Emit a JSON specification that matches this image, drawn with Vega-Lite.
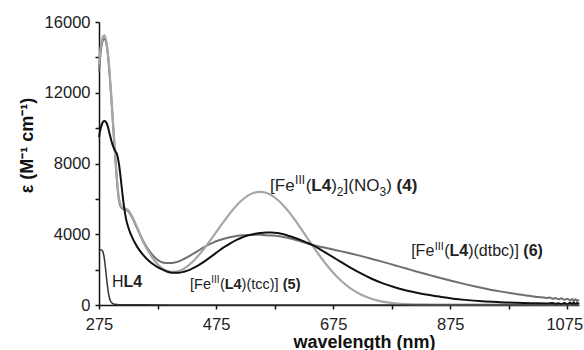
{
  "$schema": "https://vega.github.io/schema/vega-lite/v6.json",
  "width": 480,
  "height": 283,
  "autosize": {"type": "none"},
  "padding": {"left": 99, "top": 22, "right": 5, "bottom": 45},
  "background": "white",
  "config": {
    "view": {"stroke": null},
    "font": "Liberation Sans",
    "axis": {"grid": false, "domainColor": "#111", "domainWidth": 1.5, "tickColor": "#111", "tickWidth": 1.5, "tickSize": 4, "labelFont": "Liberation Sans", "labelFontSize": 16.5, "labelColor": "#222", "titleFont": "Liberation Sans", "titleColor": "#111"}
  },
  "datasets": {
    "s6": [
      {"nm": 275, "eps": 13200}, {"nm": 278, "eps": 14300}, {"nm": 281, "eps": 14900}, {"nm": 284, "eps": 15050}, {"nm": 287, "eps": 14850},
      {"nm": 290, "eps": 14200}, {"nm": 293, "eps": 13100}, {"nm": 296, "eps": 11700}, {"nm": 299, "eps": 10200}, {"nm": 302, "eps": 8700},
      {"nm": 305, "eps": 7300}, {"nm": 308, "eps": 6200}, {"nm": 311, "eps": 5650}, {"nm": 315, "eps": 5450}, {"nm": 320, "eps": 5400},
      {"nm": 325, "eps": 5300}, {"nm": 330, "eps": 5050}, {"nm": 340, "eps": 4350}, {"nm": 350, "eps": 3650}, {"nm": 360, "eps": 3100},
      {"nm": 370, "eps": 2700}, {"nm": 380, "eps": 2450}, {"nm": 390, "eps": 2370}, {"nm": 400, "eps": 2380}, {"nm": 410, "eps": 2450},
      {"nm": 420, "eps": 2600}, {"nm": 430, "eps": 2780}, {"nm": 440, "eps": 2980}, {"nm": 450, "eps": 3180}, {"nm": 460, "eps": 3370},
      {"nm": 470, "eps": 3530}, {"nm": 480, "eps": 3660}, {"nm": 490, "eps": 3760}, {"nm": 500, "eps": 3840}, {"nm": 510, "eps": 3900},
      {"nm": 520, "eps": 3940}, {"nm": 530, "eps": 3960}, {"nm": 540, "eps": 3970}, {"nm": 550, "eps": 3965}, {"nm": 560, "eps": 3950},
      {"nm": 570, "eps": 3930}, {"nm": 580, "eps": 3900}, {"nm": 590, "eps": 3840}, {"nm": 600, "eps": 3770}, {"nm": 610, "eps": 3690},
      {"nm": 620, "eps": 3590}, {"nm": 630, "eps": 3490}, {"nm": 640, "eps": 3390}, {"nm": 660, "eps": 3250}, {"nm": 680, "eps": 3100},
      {"nm": 700, "eps": 2950}, {"nm": 720, "eps": 2790}, {"nm": 740, "eps": 2620}, {"nm": 760, "eps": 2440}, {"nm": 780, "eps": 2250},
      {"nm": 800, "eps": 2060}, {"nm": 820, "eps": 1870}, {"nm": 840, "eps": 1690}, {"nm": 860, "eps": 1510}, {"nm": 880, "eps": 1340},
      {"nm": 900, "eps": 1180}, {"nm": 920, "eps": 1030}, {"nm": 940, "eps": 890}, {"nm": 960, "eps": 770}, {"nm": 980, "eps": 660},
      {"nm": 1000, "eps": 560}, {"nm": 1010, "eps": 520}, {"nm": 1020, "eps": 470}, {"nm": 1030, "eps": 440}, {"nm": 1040, "eps": 400},
      {"nm": 1045, "eps": 420}, {"nm": 1050, "eps": 350}, {"nm": 1055, "eps": 390}, {"nm": 1060, "eps": 320}, {"nm": 1065, "eps": 380},
      {"nm": 1070, "eps": 290}, {"nm": 1075, "eps": 360}, {"nm": 1080, "eps": 250}, {"nm": 1083, "eps": 340}, {"nm": 1086, "eps": 230},
      {"nm": 1089, "eps": 330}, {"nm": 1092, "eps": 220}, {"nm": 1095, "eps": 300}
    ],
    "s4": [
      {"nm": 275, "eps": 13600}, {"nm": 278, "eps": 14600}, {"nm": 281, "eps": 15100}, {"nm": 284, "eps": 15250}, {"nm": 287, "eps": 15000},
      {"nm": 290, "eps": 14300}, {"nm": 293, "eps": 13200}, {"nm": 296, "eps": 11800}, {"nm": 299, "eps": 10300}, {"nm": 302, "eps": 8800},
      {"nm": 305, "eps": 7400}, {"nm": 308, "eps": 6300}, {"nm": 311, "eps": 5750}, {"nm": 315, "eps": 5500}, {"nm": 320, "eps": 5450},
      {"nm": 325, "eps": 5350}, {"nm": 330, "eps": 5100}, {"nm": 340, "eps": 4400}, {"nm": 350, "eps": 3600}, {"nm": 360, "eps": 3000},
      {"nm": 370, "eps": 2500}, {"nm": 380, "eps": 2150}, {"nm": 390, "eps": 1950}, {"nm": 400, "eps": 1870}, {"nm": 410, "eps": 1900},
      {"nm": 420, "eps": 2050}, {"nm": 430, "eps": 2300}, {"nm": 440, "eps": 2620}, {"nm": 450, "eps": 3000}, {"nm": 460, "eps": 3420},
      {"nm": 470, "eps": 3880}, {"nm": 480, "eps": 4350}, {"nm": 490, "eps": 4800}, {"nm": 500, "eps": 5240}, {"nm": 510, "eps": 5630},
      {"nm": 520, "eps": 5950}, {"nm": 530, "eps": 6200}, {"nm": 540, "eps": 6350}, {"nm": 550, "eps": 6400}, {"nm": 560, "eps": 6350},
      {"nm": 570, "eps": 6200}, {"nm": 580, "eps": 5950}, {"nm": 590, "eps": 5630}, {"nm": 600, "eps": 5240}, {"nm": 610, "eps": 4800},
      {"nm": 620, "eps": 4320}, {"nm": 630, "eps": 3830}, {"nm": 640, "eps": 3340}, {"nm": 650, "eps": 2870}, {"nm": 660, "eps": 2430},
      {"nm": 670, "eps": 2020}, {"nm": 680, "eps": 1650}, {"nm": 690, "eps": 1330}, {"nm": 700, "eps": 1055}, {"nm": 710, "eps": 823},
      {"nm": 720, "eps": 632}, {"nm": 730, "eps": 477}, {"nm": 750, "eps": 260}, {"nm": 770, "eps": 132}, {"nm": 800, "eps": 50},
      {"nm": 850, "eps": 25}, {"nm": 900, "eps": 20}, {"nm": 1000, "eps": 15}, {"nm": 1095, "eps": 10}
    ],
    "s5": [
      {"nm": 275, "eps": 9500}, {"nm": 278, "eps": 10000}, {"nm": 281, "eps": 10300}, {"nm": 284, "eps": 10400}, {"nm": 287, "eps": 10350},
      {"nm": 290, "eps": 10100}, {"nm": 293, "eps": 9700}, {"nm": 296, "eps": 9300}, {"nm": 300, "eps": 8900}, {"nm": 303, "eps": 8700},
      {"nm": 306, "eps": 8500}, {"nm": 309, "eps": 8000}, {"nm": 312, "eps": 7200}, {"nm": 315, "eps": 6300}, {"nm": 318, "eps": 5500},
      {"nm": 321, "eps": 4900}, {"nm": 325, "eps": 4400}, {"nm": 330, "eps": 3950}, {"nm": 340, "eps": 3300}, {"nm": 350, "eps": 2850},
      {"nm": 360, "eps": 2500}, {"nm": 370, "eps": 2250}, {"nm": 380, "eps": 2050}, {"nm": 390, "eps": 1900}, {"nm": 400, "eps": 1820},
      {"nm": 410, "eps": 1820}, {"nm": 420, "eps": 1880}, {"nm": 430, "eps": 1990}, {"nm": 440, "eps": 2150}, {"nm": 450, "eps": 2350},
      {"nm": 460, "eps": 2580}, {"nm": 470, "eps": 2820}, {"nm": 480, "eps": 3070}, {"nm": 490, "eps": 3300}, {"nm": 500, "eps": 3500},
      {"nm": 510, "eps": 3680}, {"nm": 520, "eps": 3830}, {"nm": 530, "eps": 3940}, {"nm": 540, "eps": 4020}, {"nm": 550, "eps": 4070},
      {"nm": 560, "eps": 4100}, {"nm": 570, "eps": 4100}, {"nm": 580, "eps": 4070}, {"nm": 590, "eps": 4000}, {"nm": 600, "eps": 3900},
      {"nm": 610, "eps": 3790}, {"nm": 620, "eps": 3670}, {"nm": 630, "eps": 3530}, {"nm": 640, "eps": 3380}, {"nm": 650, "eps": 3200},
      {"nm": 660, "eps": 3000}, {"nm": 680, "eps": 2600}, {"nm": 700, "eps": 2200}, {"nm": 720, "eps": 1830}, {"nm": 740, "eps": 1500},
      {"nm": 760, "eps": 1220}, {"nm": 780, "eps": 1000}, {"nm": 800, "eps": 820}, {"nm": 820, "eps": 680}, {"nm": 840, "eps": 560},
      {"nm": 860, "eps": 450}, {"nm": 880, "eps": 360}, {"nm": 900, "eps": 290}, {"nm": 930, "eps": 210}, {"nm": 960, "eps": 160},
      {"nm": 1000, "eps": 110}, {"nm": 1020, "eps": 95}, {"nm": 1040, "eps": 85}, {"nm": 1050, "eps": 110}, {"nm": 1055, "eps": 60},
      {"nm": 1060, "eps": 105}, {"nm": 1065, "eps": 50}, {"nm": 1070, "eps": 120}, {"nm": 1075, "eps": 40}, {"nm": 1080, "eps": 130},
      {"nm": 1083, "eps": 50}, {"nm": 1086, "eps": 140}, {"nm": 1089, "eps": 40}, {"nm": 1092, "eps": 120}, {"nm": 1095, "eps": 60}
    ],
    "hl4": [
      {"nm": 275, "eps": 3100}, {"nm": 278, "eps": 3120}, {"nm": 281, "eps": 3050}, {"nm": 283, "eps": 2850}, {"nm": 285, "eps": 2400},
      {"nm": 287, "eps": 1800}, {"nm": 289, "eps": 1200}, {"nm": 291, "eps": 700}, {"nm": 293, "eps": 380}, {"nm": 295, "eps": 200},
      {"nm": 298, "eps": 90}, {"nm": 302, "eps": 40}, {"nm": 310, "eps": 20}, {"nm": 350, "eps": 10}, {"nm": 400, "eps": 5},
      {"nm": 500, "eps": 0}, {"nm": 1095, "eps": 0}
    ],
    "lab4Reg": [
      {"nm": 567.3, "eps": 6446, "t": "[Fe"}, {"nm": 628.0, "eps": 6446, "t": "("}, {"nm": 671.6, "eps": 6446, "t": ")"},
      {"nm": 692.8, "eps": 6446, "t": "](NO"}, {"nm": 765.6, "eps": 6446, "t": ")"}
    ],
    "lab4Bold": [
      {"nm": 637.7, "eps": 6446, "t": "L4"}, {"nm": 783.4, "eps": 6446, "t": "(4)"}
    ],
    "lab4Sup": [{"nm": 610.0, "eps": 6446, "t": "III"}],
    "lab4Sub": [{"nm": 681.3, "eps": 6446, "t": "2"}, {"nm": 754.1, "eps": 6446, "t": "3"}],
    "lab5Reg": [
      {"nm": 430.6, "eps": 905, "t": "[Fe"}, {"nm": 481.5, "eps": 905, "t": "("}, {"nm": 518.6, "eps": 905, "t": ")(tcc)]"}
    ],
    "lab5Bold": [
      {"nm": 489.7, "eps": 905, "t": "L4"}, {"nm": 588.9, "eps": 905, "t": "(5)"}
    ],
    "lab5Sup": [{"nm": 466.8, "eps": 905, "t": "III"}],
    "lab6Reg": [
      {"nm": 808.3, "eps": 2770, "t": "[Fe"}, {"nm": 864.7, "eps": 2770, "t": "("}, {"nm": 905.7, "eps": 2770, "t": ")(dtbc)]"},
      {"nm": 297.2, "eps": 1018, "t": "H"}
    ],
    "lab6Bold": [
      {"nm": 873.8, "eps": 2770, "t": "L4"}, {"nm": 999.9, "eps": 2770, "t": "(6)"},
      {"nm": 317.0, "eps": 1018, "t": "L4"}
    ],
    "lab6Sup": [{"nm": 848.5, "eps": 2770, "t": "III"}]
  },
  "encoding": {
    "x": {"field": "nm", "type": "quantitative", "scale": {"domain": [275, 1095], "nice": false, "zero": false},
      "axis": {"values": [275, 375, 475, 575, 675, 775, 875, 975, 1075], "labelExpr": "(datum.value - 275) % 200 == 0 ? datum.label : ''", "format": "d", "labelPadding": 7, "labelFlush": false, "labelOverlap": false,
        "labelOffset": {"condition": {"test": "datum.value == 1075", "value": -3}, "value": 0},
        "title": "wavelength (nm)", "titleFontSize": 18, "titleFontWeight": "bold", "titleX": 265, "titleY": 42, "titleBaseline": "alphabetic"}},
    "y": {"field": "eps", "type": "quantitative", "scale": {"domain": [0, 16000], "nice": false},
      "axis": {"values": [0, 2000, 4000, 6000, 8000, 10000, 12000, 14000, 16000], "labelExpr": "datum.value % 4000 == 0 ? datum.label : ''", "format": "d", "labelPadding": 5, "labelFlush": false, "labelOverlap": false,
        "title": "ε (M⁻¹ cm⁻¹)", "titleFontSize": 18, "titleFontWeight": "bold", "titleX": -67, "titleY": 123, "titleBaseline": "alphabetic", "titleAlign": "center"}}
  },
  "layer": [
    {"data": {"name": "s6"}, "mark": {"type": "line", "color": "#6f6f6f", "strokeWidth": 2, "interpolate": "monotone"}},
    {"data": {"name": "s4"}, "mark": {"type": "line", "color": "#a6a6a6", "strokeWidth": 2.2, "interpolate": "monotone"}},
    {"data": {"name": "s5"}, "mark": {"type": "line", "color": "#111111", "strokeWidth": 2, "interpolate": "monotone"}},
    {"data": {"name": "hl4"}, "mark": {"type": "line", "color": "#333333", "strokeWidth": 1.5, "interpolate": "monotone"}},
    {"data": {"name": "lab4Reg"}, "mark": {"type": "text", "align": "left", "baseline": "alphabetic", "fontSize": 17, "color": "#222"}, "encoding": {"text": {"field": "t"}}},
    {"data": {"name": "lab4Bold"}, "mark": {"type": "text", "align": "left", "baseline": "alphabetic", "fontSize": 17, "fontWeight": "bold", "color": "#222"}, "encoding": {"text": {"field": "t"}}},
    {"data": {"name": "lab4Sup"}, "mark": {"type": "text", "align": "left", "baseline": "alphabetic", "fontSize": 12, "dy": -7, "color": "#222"}, "encoding": {"text": {"field": "t"}}},
    {"data": {"name": "lab4Sub"}, "mark": {"type": "text", "align": "left", "baseline": "alphabetic", "fontSize": 12, "dy": 5, "color": "#222"}, "encoding": {"text": {"field": "t"}}},
    {"data": {"name": "lab5Reg"}, "mark": {"type": "text", "align": "left", "baseline": "alphabetic", "fontSize": 14.5, "color": "#222"}, "encoding": {"text": {"field": "t"}}},
    {"data": {"name": "lab5Bold"}, "mark": {"type": "text", "align": "left", "baseline": "alphabetic", "fontSize": 14.5, "fontWeight": "bold", "color": "#222"}, "encoding": {"text": {"field": "t"}}},
    {"data": {"name": "lab5Sup"}, "mark": {"type": "text", "align": "left", "baseline": "alphabetic", "fontSize": 10, "dy": -6, "color": "#222"}, "encoding": {"text": {"field": "t"}}},
    {"data": {"name": "lab6Reg"}, "mark": {"type": "text", "align": "left", "baseline": "alphabetic", "fontSize": 16, "color": "#222"}, "encoding": {"text": {"field": "t"}}},
    {"data": {"name": "lab6Bold"}, "mark": {"type": "text", "align": "left", "baseline": "alphabetic", "fontSize": 16, "fontWeight": "bold", "color": "#222"}, "encoding": {"text": {"field": "t"}}},
    {"data": {"name": "lab6Sup"}, "mark": {"type": "text", "align": "left", "baseline": "alphabetic", "fontSize": 11, "dy": -6, "color": "#222"}, "encoding": {"text": {"field": "t"}}}
  ]
}
